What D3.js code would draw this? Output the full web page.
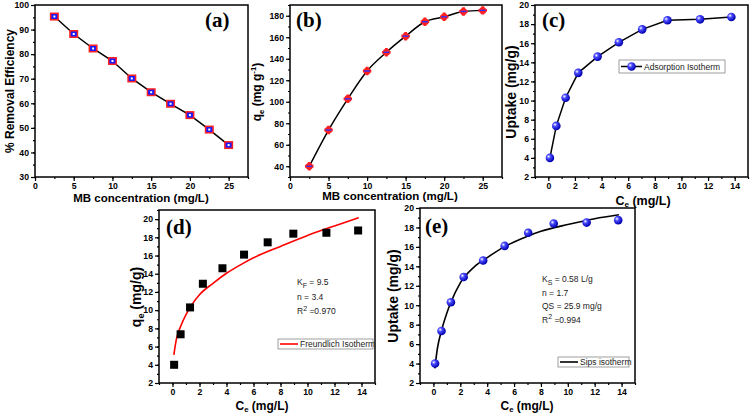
<!DOCTYPE html>
<html>
<head>
<meta charset="utf-8">
<script src="https://cdn.jsdelivr.net/npm/d3@7"></script>
<style>
  body { margin: 0; background: #fff; }
  svg { display: block; font-family: Arial, "Liberation Sans", sans-serif; }
  .tick text { font-weight: bold; font-size: 8.7px; }
  .domain { display: none; }
</style>
</head>
<body>
<svg width="750" height="414"></svg>
<script>
// data
var conc = [2.5, 5, 7.5, 10, 12.5, 15, 17.5, 20, 22.5, 25];
var removal = [95.3, 88.2, 82.3, 77.2, 70.1, 64.5, 59.8, 55.2, 49.3, 43.0];
var qeConc = [40, 73.7, 102.7, 128.6, 146, 161, 174.4, 179, 184, 185];
var ce = [0.12, 0.6, 1.3, 2.25, 3.7, 5.3, 7.05, 8.95, 11.4, 13.75];
var uptake = [4.0, 7.35, 10.3, 12.9, 14.6, 16.1, 17.45, 18.4, 18.5, 18.75];
var freundX = [0.1, 0.3, 0.6, 1, 1.5, 2, 3, 4, 5, 6, 8, 10, 12, 13.8];
var freundY = [5.1, 6.9, 8.2, 9.5, 10.75, 11.7, 12.95, 14.05, 14.95, 15.75, 17.0, 18.2, 19.25, 20.15];
var sipsX = [0.1, 0.3, 0.6, 1, 1.3, 2, 3, 4, 5, 6, 7, 8, 10, 12, 13.8];
var sipsY = [3.5, 5.6, 7.4, 9.2, 10.3, 12.3, 13.9, 14.9, 15.8, 16.5, 17.1, 17.6, 18.3, 18.9, 19.3];

var svg = d3.select("svg");

var defs = svg.append("defs");
var grad = defs.append("radialGradient").attr("id", "ball").attr("cx", "35%").attr("cy", "35%").attr("r", "65%");
grad.append("stop").attr("offset", "0%").attr("stop-color", "#ffffff");
grad.append("stop").attr("offset", "35%").attr("stop-color", "#4a4aff");
grad.append("stop").attr("offset", "100%").attr("stop-color", "#0000b0");

/* sets up one panel: scales, frame, major + minor ticks */
function panel(box, xDom, yDom, xTicks, yTicks, xMinor, yMinor) {
    var x = d3.scaleLinear().domain(xDom).range([box.l, box.r]);
    var y = d3.scaleLinear().domain(yDom).range([box.b, box.t]);
    var g = svg.append("g");

    g.append("g")
        .attr("transform", "translate(0," + box.b + ")")
        .call(d3.axisBottom(x).tickValues(xMinor).tickSize(2).tickFormat(""));
    g.append("g")
        .attr("transform", "translate(" + box.l + ",0)")
        .call(d3.axisLeft(y).tickValues(yMinor).tickSize(2).tickFormat(""));
    g.append("g")
        .attr("transform", "translate(0," + box.b + ")")
        .call(d3.axisBottom(x).tickValues(xTicks).tickSize(4).tickPadding(1.5));
    g.append("g")
        .attr("transform", "translate(" + box.l + ",0)")
        .call(d3.axisLeft(y).tickValues(yTicks).tickSize(4).tickPadding(2));
    g.selectAll(".tick line").attr("stroke-width", 1.2);

    g.append("rect")
        .attr("x", box.l).attr("y", box.t)
        .attr("width", box.r - box.l).attr("height", box.b - box.t)
        .attr("fill", "none").attr("stroke", "#000").attr("stroke-width", 1.5);
    return { x: x, y: y, g: g };
}

function label(txt, x, y) {
    svg.append("text").attr("x", x).attr("y", y)
        .attr("font-family", "'Liberation Serif', 'Times New Roman', serif")
        .attr("font-weight", "bold").attr("font-size", 21).text(txt);
}

function title(parts, x, y, size, rotate) {
    var t = svg.append("text")
        .attr("text-anchor", "middle").attr("font-weight", "bold").attr("font-size", size)
        .attr("transform", "translate(" + x + "," + y + ")" + (rotate ? " rotate(-90)" : ""));
    parts.forEach(function (p) {
        var s = t.append("tspan").text(p[0]);
        if (p[1] === "sub") s.attr("font-size", size * 0.65).attr("dy", size * 0.21);
        else if (p[1] === "sup") s.attr("font-size", size * 0.65).attr("dy", -size * 0.4);
        else if (p[1] === "back") s.attr("dy", p[2]);
    });
}

function note(lines, x, y0, step) {
    lines.forEach(function (ln, i) {
        var t = svg.append("text").attr("x", x).attr("y", y0 + i * step)
            .attr("font-size", 8.5).attr("fill", "#222");
        ln.forEach(function (p) {
            var s = t.append("tspan").text(p[0]);
            if (p[1] === "sub") s.attr("font-size", 7).attr("dy", 2.5);
            else if (p[1] === "sup") s.attr("font-size", 7).attr("dy", -3.5);
            else if (p[1] === "back") s.attr("dy", p[2]);
        });
    });
}

var steps = function (a, b, s) { return d3.range(a, b + s / 2, s); };

/* (a) removal efficiency */
var pa = panel({ l: 35, r: 248, t: 5, b: 177 }, [0, 27.5], [30, 100],
    steps(0, 25, 5), steps(30, 100, 10), steps(0, 27.5, 2.5), steps(30, 100, 5));
var ptsA = conc.map(function (c, i) { return [c, removal[i]]; });
pa.g.append("path").datum(ptsA)
    .attr("d", d3.line().x(function (d) { return pa.x(d[0]); }).y(function (d) { return pa.y(d[1]); }))
    .attr("fill", "none").attr("stroke", "#000").attr("stroke-width", 1.5);
pa.g.selectAll(".ma").data(ptsA).enter().append("rect")
    .attr("x", function (d) { return pa.x(d[0]) - 4.5; }).attr("y", function (d) { return pa.y(d[1]) - 4; })
    .attr("width", 9).attr("height", 8).attr("fill", "#ff2020");
pa.g.selectAll(".mb").data(ptsA).enter().append("rect")
    .attr("x", function (d) { return pa.x(d[0]) - 3; }).attr("y", function (d) { return pa.y(d[1]) - 2.5; })
    .attr("width", 6).attr("height", 5).attr("fill", "#1a1aff");
pa.g.selectAll(".mc").data(ptsA).enter().append("rect")
    .attr("x", function (d) { return pa.x(d[0]) - 1; }).attr("y", function (d) { return pa.y(d[1]) - 1; })
    .attr("width", 2).attr("height", 2).attr("fill", "#fff");
label("(a)", 205, 27);
title([["MB concentration (mg/L)"]], 141, 202, 11.5, false);
title([["% Removal Efficiency"]], 14, 91, 12, true);

/* (b) q_e vs concentration */
var pb = panel({ l: 290, r: 502, t: 5, b: 177 }, [0, 27.5], [30, 190],
    steps(0, 25, 5), steps(40, 180, 20), steps(0, 27.5, 2.5), steps(30, 190, 10));
var ptsB = conc.map(function (c, i) { return [c, qeConc[i]]; });
pb.g.append("path").datum(ptsB)
    .attr("d", d3.line().curve(d3.curveMonotoneX).x(function (d) { return pb.x(d[0]); }).y(function (d) { return pb.y(d[1]); }))
    .attr("fill", "none").attr("stroke", "#000").attr("stroke-width", 1.5);
pb.g.selectAll(".mb").data(ptsB).enter().append("path")
    .attr("transform", function (d) { return "translate(" + pb.x(d[0]) + "," + pb.y(d[1]) + ")"; })
    .attr("d", d3.symbol().type(d3.symbolCross).size(40)).attr("fill", "#ff2020");
pb.g.selectAll(".mc").data(ptsB).enter().append("circle")
    .attr("cx", function (d) { return pb.x(d[0]); }).attr("cy", function (d) { return pb.y(d[1]); })
    .attr("r", 3.5).attr("fill", "#ff2020");
pb.g.selectAll(".md").data(ptsB).enter().append("rect")
    .attr("x", function (d) { return pb.x(d[0]) - 3; }).attr("y", function (d) { return pb.y(d[1]) - 0.7; })
    .attr("width", 6).attr("height", 1.4).attr("fill", "#3030ff");
label("(b)", 296, 27);
title([["MB concentration (mg/L)"]], 390, 200, 11.5, false);
title([["q"], ["e", "sub"], [" (mg g", "back", -2.5], ["-1", "sup"], [")", "back", 4.8]], 261, 92, 12, true);

/* (c) adsorption isotherm */
var pc = panel({ l: 535, r: 748, t: 5, b: 177 }, [-1, 15], [2, 20],
    steps(0, 14, 2), steps(2, 20, 2), steps(-1, 15, 1), steps(2, 20, 1));
var ptsC = ce.map(function (c, i) { return [c, uptake[i]]; });
pc.g.append("path").datum(ptsC)
    .attr("d", d3.line().x(function (d) { return pc.x(d[0]); }).y(function (d) { return pc.y(d[1]); }))
    .attr("fill", "none").attr("stroke", "#000").attr("stroke-width", 1.5);
pc.g.selectAll(".mb").data(ptsC).enter().append("circle")
    .attr("cx", function (d) { return pc.x(d[0]); }).attr("cy", function (d) { return pc.y(d[1]); })
    .attr("r", 4.3).attr("fill", "url(#ball)");
pc.g.append("rect").attr("x", 619).attr("y", 60).attr("width", 106).attr("height", 13)
    .attr("fill", "#fff").attr("stroke", "#888").attr("stroke-width", 0.8);
pc.g.append("line").attr("x1", 621).attr("x2", 642).attr("y1", 66.5).attr("y2", 66.5)
    .attr("stroke", "#000").attr("stroke-width", 1.5);
pc.g.append("circle").attr("cx", 631.5).attr("cy", 66.5).attr("r", 4.3).attr("fill", "url(#ball)");
pc.g.append("text").attr("x", 644).attr("y", 69.5).attr("font-size", 8.5).attr("fill", "#222").text("Adsorption Isotherm");
label("(c)", 542, 27);
title([["C"], ["e", "sub"], [" (mg/L)", "back", -2.6]], 643, 204.5, 12.5, false);
title([["Uptake (mg/g)"]], 516, 92, 14, true);

/* (d) Freundlich fit */
var pd = panel({ l: 159, r: 375, t: 210, b: 383 }, [-1, 15], [2, 21],
    steps(0, 14, 2), steps(2, 20, 2), steps(-1, 15, 1), steps(2, 21, 1));
pd.g.append("path").datum(freundX.map(function (c, i) { return [c, freundY[i]]; }))
    .attr("d", d3.line().curve(d3.curveMonotoneX).x(function (d) { return pd.x(d[0]); }).y(function (d) { return pd.y(d[1]); }))
    .attr("fill", "none").attr("stroke", "#ff0000").attr("stroke-width", 1.6);
pd.g.selectAll(".mb").data(ptsC).enter().append("rect")
    .attr("x", function (d) { return pd.x(d[0]) - 4; }).attr("y", function (d) { return pd.y(d[1]) - 4; })
    .attr("width", 8).attr("height", 8).attr("fill", "#000");
pd.g.append("rect").attr("x", 278).attr("y", 339).attr("width", 95).attr("height", 10)
    .attr("fill", "#fff").attr("stroke", "#888").attr("stroke-width", 0.8);
pd.g.append("line").attr("x1", 280).attr("x2", 298).attr("y1", 344).attr("y2", 344)
    .attr("stroke", "#ff0000").attr("stroke-width", 1.6);
pd.g.append("text").attr("x", 300).attr("y", 347).attr("font-size", 8.5).attr("fill", "#222").text("Freundlich Isotherm");
note([[["K"], ["F", "sub"], [" = 9.5", "back", -2.5]], [["n = 3.4"]], [["R"], ["2", "sup"], [" =0.970", "back", 3.5]]], 297, 285, 14.5);
label("(d)", 166, 234);
title([["C"], ["e", "sub"], [" (mg/L)", "back", -2.5]], 262, 409.5, 12, false);
title([["q"], ["e", "sub"], [" (mg/g)", "back", -3]], 141, 297, 14, true);

/* (e) Sips fit */
var pe = panel({ l: 420, r: 635, t: 208, b: 383 }, [-1, 15], [2, 20],
    steps(0, 14, 2), steps(2, 20, 2), steps(-1, 15, 1), steps(2, 20, 1));
pe.g.append("path").datum(sipsX.map(function (c, i) { return [c, sipsY[i]]; }))
    .attr("d", d3.line().curve(d3.curveMonotoneX).x(function (d) { return pe.x(d[0]); }).y(function (d) { return pe.y(d[1]); }))
    .attr("fill", "none").attr("stroke", "#000").attr("stroke-width", 1.6);
pe.g.selectAll(".mb").data(ptsC).enter().append("circle")
    .attr("cx", function (d) { return pe.x(d[0]); }).attr("cy", function (d) { return pe.y(d[1]); })
    .attr("r", 4.3).attr("fill", "url(#ball)");
pe.g.append("rect").attr("x", 558).attr("y", 357).attr("width", 71).attr("height", 10)
    .attr("fill", "#fff").attr("stroke", "#888").attr("stroke-width", 0.8);
pe.g.append("line").attr("x1", 560).attr("x2", 578).attr("y1", 362).attr("y2", 362)
    .attr("stroke", "#000").attr("stroke-width", 1.6);
pe.g.append("text").attr("x", 580).attr("y", 365).attr("font-size", 8.5).attr("fill", "#222").text("Sips isotherm");
note([[["K"], ["S", "sub"], [" = 0.58 L/g", "back", -2.5]], [["n = 1.7"]], [["QS = 25.9 mg/g"]], [["R"], ["2", "sup"], [" =0.994", "back", 3.5]]], 542, 282, 13.5);
label("(e)", 425, 233);
title([["C"], ["e", "sub"], [" (mg/L)", "back", -2.5]], 527, 409.5, 12, false);
title([["Uptake (mg/g)"]], 398, 296, 14, true);
</script>
</body>
</html>
